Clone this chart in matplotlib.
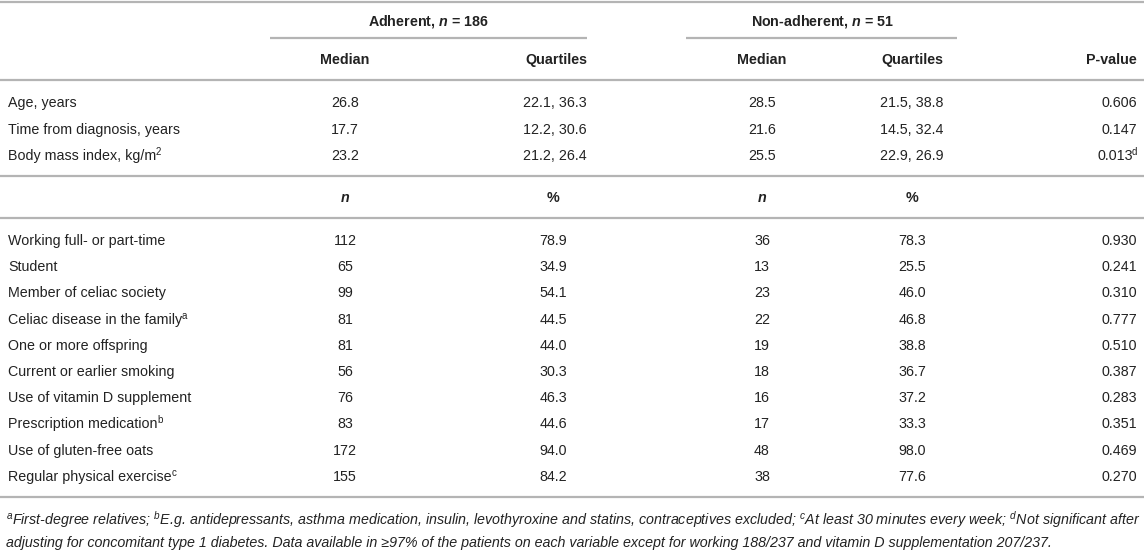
import matplotlib.pyplot as plt
from matplotlib import font_manager

plt.rcParams['font.family'] = ['Liberation Sans', 'DejaVu Sans']
plt.rcParams['mathtext.fontset'] = 'custom'
plt.rcParams['mathtext.it'] = 'Liberation Sans:italic:bold'
plt.rcParams['mathtext.bf'] = 'Liberation Sans:bold'
plt.rcParams['mathtext.rm'] = 'Liberation Sans'

group_titles = [r'Adherent, $\mathit{n}$ = 186', r'Non-adherent, $\mathit{n}$ = 51']
cont_headers = ['Median', 'Quartiles', 'Median', 'Quartiles', 'P-value']
# (text, superscript)
cont_labels = [('Age, years', ''), ('Time from diagnosis, years', ''), ('Body mass index, kg/m', '2')]
cont_adh_median = ['26.8', '17.7', '23.2']
cont_adh_quart = ['22.1, 36.3', '12.2, 30.6', '21.2, 26.4']
cont_non_median = ['28.5', '21.6', '25.5']
cont_non_quart = ['21.5, 38.8', '14.5, 32.4', '22.9, 26.9']
cont_p = [('0.606', ''), ('0.147', ''), ('0.013', 'd')]

cat_headers = [r'$\mathit{n}$', '%', r'$\mathit{n}$', '%']
cat_labels = [
    ('Working full- or part-time', ''), ('Student', ''), ('Member of celiac society', ''),
    ('Celiac disease in the family', 'a'), ('One or more offspring', ''),
    ('Current or earlier smoking', ''), ('Use of vitamin D supplement', ''),
    ('Prescription medication', 'b'), ('Use of gluten-free oats', ''),
    ('Regular physical exercise', 'c')
]
cat_adh_n = ['112', '65', '99', '81', '81', '56', '76', '83', '172', '155']
cat_adh_pct = ['78.9', '34.9', '54.1', '44.5', '44.0', '30.3', '46.3', '44.6', '94.0', '84.2']
cat_non_n = ['36', '13', '23', '22', '19', '18', '16', '17', '48', '38']
cat_non_pct = ['78.3', '25.5', '46.0', '46.8', '38.8', '36.7', '37.2', '33.3', '98.0', '77.6']
cat_p = ['0.930', '0.241', '0.310', '0.777', '0.510', '0.387', '0.283', '0.351', '0.469', '0.270']

footnote_1 = (r'$^{\mathregular{a}}$First-degree relatives; $^{\mathregular{b}}$E.g. antidepressants, asthma medication, '
              r'insulin, levothyroxine and statins, contraceptives excluded; $^{\mathregular{c}}$At least 30 minutes '
              r'every week; $^{\mathregular{d}}$Not significant after')
footnote_2 = ('adjusting for concomitant type 1 diabetes. Data available in \u226597% of the patients on each variable '
              'except for working 188/237 and vitamin D supplementation 207/237.')

fig = plt.figure(figsize=(11.44, 5.53), dpi=100)
ax = fig.add_axes([0, 0, 1, 1])
ax.set_xlim(0, 1144)
ax.set_ylim(553, 0)
ax.axis('off')
renderer = fig.canvas.get_renderer()

fs = 10.3
txt = '#222222'
line_col = '#b4b4b4'
base = 5  # baseline offset from row centre, px

label_x = 8
cols = [(345, 'center'), (587, 'right'), (762, 'center'), (912, 'center'), (1137, 'right')]
pct_cols = [(345, 'center'), (553, 'center'), (762, 'center'), (912, 'center'), (1137, 'right')]


def hline(y, x0=0, x1=1144):
    ax.plot([x0, x1], [y, y], color=line_col, lw=1.6, solid_capstyle='butt')


def cell(x, y, s, ha='center', **kw):
    return ax.text(x, y + base, s, ha=ha, va='baseline', fontsize=fs, color=txt, **kw)


def sup_cell(x, y, s, sup, ha='left'):
    # plain text plus a small raised superscript, placed from measured extents
    if not sup:
        return cell(x, y, s, ha=ha)
    if ha == 'left':
        t = cell(x, y, s, ha='left')
        x1 = t.get_window_extent(renderer).x1
        ax.text(x1 - 0.5, y + base - 5, sup, ha='left', va='baseline', fontsize=fs * 0.68, color=txt)
    else:
        st = ax.text(x, y + base - 5, sup, ha='right', va='baseline', fontsize=fs * 0.68, color=txt)
        w = st.get_window_extent(renderer).width
        cell(x - w + 1, y, s, ha='right')


hline(2)
hline(38, 270, 587)
hline(38, 686, 957)
hline(80)
hline(176)
hline(218)
hline(497)

cell(428, 20, group_titles[0], weight='bold')
cell(822, 20, group_titles[1], weight='bold')

for (x, ha), h in zip(cols, cont_headers):
    cell(x, 59, h, ha=ha, weight='bold')

cont_y = [102, 129, 155]
for i, y in enumerate(cont_y):
    sup_cell(label_x, y, *cont_labels[i])
    vals = [cont_adh_median[i], cont_adh_quart[i], cont_non_median[i], cont_non_quart[i]]
    for (x, ha), v in zip(cols[:4], vals):
        cell(x, y, v, ha=ha)
    sup_cell(cols[4][0], y, *cont_p[i], ha='right')

for (x, ha), h in zip(pct_cols[:4], cat_headers):
    cell(x, 197, h, ha=ha, weight='bold')

cat_y0 = 240
cat_step = 26.2
for i, lab in enumerate(cat_labels):
    y = cat_y0 + i * cat_step
    sup_cell(label_x, y, *lab)
    vals = [cat_adh_n[i], cat_adh_pct[i], cat_non_n[i], cat_non_pct[i], cat_p[i]]
    for (x, ha), v in zip(pct_cols, vals):
        cell(x, y, v, ha=ha)

# footnotes: condensed italic if available, otherwise sized to the same line width
names = {f.name for f in font_manager.fontManager.ttflist}
foot_font = [n for n in ['Liberation Sans Narrow', 'DejaVu Sans Condensed'] if n in names]
foot_font += ['Liberation Sans', 'DejaVu Sans']
f1 = ax.text(6, 520 + 5, footnote_1, ha='left', va='baseline', fontsize=10,
             style='italic', family=foot_font, color=txt)
f2 = ax.text(6, 542 + 5, footnote_2, ha='left', va='baseline', fontsize=10,
             style='italic', family=foot_font, color=txt)
w = f1.get_window_extent(renderer).width
scale = (1138 - 6) / w
f1.set_fontsize(10 * scale)
f2.set_fontsize(10 * scale)

fig.savefig('out.png', dpi=100)
